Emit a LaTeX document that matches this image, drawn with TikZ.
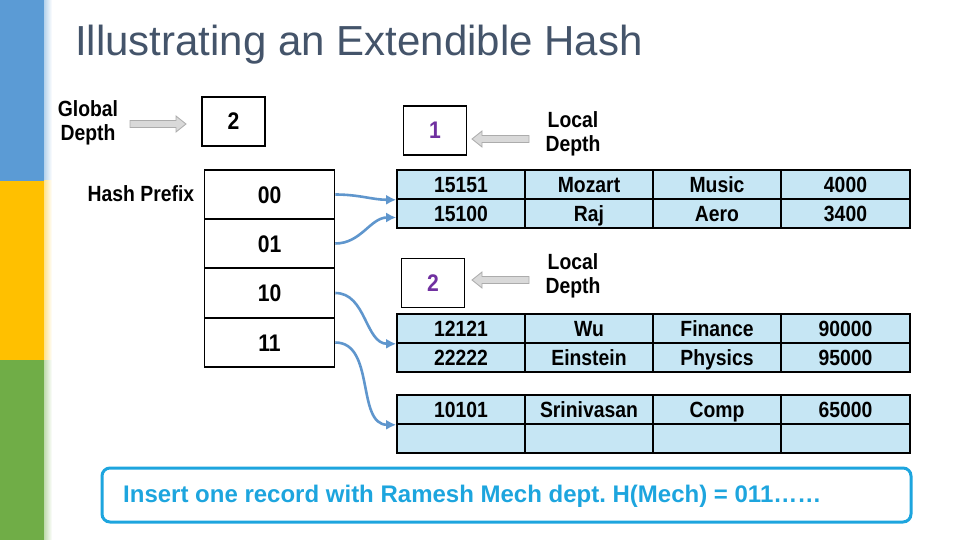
\documentclass[tikz,border=0pt]{standalone}
\usepackage{fontspec}
\setmainfont{Liberation Sans}
\newfontfamily\narrowfont[FakeStretch=0.88]{Liberation Sans}
\usepackage{tikz}
\usetikzlibrary{arrows.meta,calc}
\usepackage{xcolor}
\frenchspacing
\definecolor{slidetitle}{RGB}{68,84,106}
\definecolor{barblue}{RGB}{91,155,213}
\definecolor{baryellow}{RGB}{255,192,0}
\definecolor{bargreen}{RGB}{112,173,71}
\definecolor{bucketfill}{RGB}{198,230,244}
\definecolor{depthpurple}{RGB}{112,48,160}
\definecolor{insertcyan}{RGB}{29,165,222}
\definecolor{pointerblue}{RGB}{95,150,205}
\tikzstyle{lbl}=[font=\narrowfont\fontsize{22}{24}\selectfont\bfseries, align=center, inner sep=0]
\tikzstyle{dircell}=[draw, line width=1.6pt, minimum width=130, minimum height=49, inner sep=0, text height=17, text depth=0, font=\narrowfont\fontsize{24}{28}\selectfont\bfseries]
\tikzstyle{depthbox}=[draw, line width=1.6pt, minimum width=63, minimum height=49, inner sep=0, text height=17, text depth=0, font=\narrowfont\fontsize{24}{28}\selectfont\bfseries]
\tikzstyle{cell}=[draw, line width=1.6pt, fill=bucketfill, minimum width=128, minimum height=29, inner sep=0, text height=15.7, text depth=0, font=\narrowfont\fontsize{22}{24}\selectfont\bfseries]
\tikzstyle{pointer}=[pointerblue, line width=2.6pt, -{Latex[length=10pt,width=10pt]}]
% grey block arrow: tail x, tip x, y, signed head length
\newcommand{\blockArrow}[4]{
	\draw[gray!65, fill=gray!30, line width=.8pt] ({#1},{#3-3.5}) -- ({#2-(#4)},{#3-3.5}) -- ({#2-(#4)},{#3-8}) -- ({#2},{#3}) -- ({#2-(#4)},{#3+8}) -- ({#2-(#4)},{#3+3.5}) -- ({#1},{#3+3.5}) -- cycle;
}
% one record of a bucket: name, y, four fields
\newcommand{\bucketRow}[6]{
	\node[cell] (#1a) at (461,#2) {#3};
	\node[cell] (#1b) at (589,#2) {#4};
	\node[cell] (#1c) at (717,#2) {#5};
	\node[cell, minimum width=129] (#1d) at (845.5,#2) {#6};
}

\begin{document}
\begin{tikzpicture}[x=1pt, y=-1pt]
	\useasboundingbox (0,0) rectangle (960,540);
	\fill[barblue] (0,0) rectangle (44,181);
	\fill[baryellow] (0,181) rectangle (44,360);
	\fill[bargreen] (0,360) rectangle (44,540);
	\shade[left color=barblue!45, right color=white] (44,0) rectangle (52,181);
	\shade[left color=baryellow!45, right color=white] (44,181) rectangle (52,360);
	\shade[left color=bargreen!45, right color=white] (44,360) rectangle (52,540);
	\node[anchor=base west, inner sep=0, text=slidetitle, font=\fontsize{42}{50}\selectfont] (title) at (75,56) {Illustrating an Extendible Hash};

	% directory
	\node[lbl] (gdlabel) at (88,123) {Global\\Depth};
	\blockArrow{130}{186}{124}{10}
	\node[depthbox] (gdepth) at (233.5,121.5) {2};
	\node[lbl, anchor=base] (prefix) at (141,201) {Hash Prefix};
	\node[dircell] (d00) at (269.5,194.5) {00};
	\node[dircell] (d01) at (269.5,243.5) {01};
	\node[dircell] (d10) at (269.5,293) {10};
	\node[dircell] (d11) at (269.5,342.5) {11};

	% buckets
	\node[depthbox, text=depthpurple] (ld1) at (435,130.5) {1};
	\blockArrow{529}{472}{139}{-10}
	\node[lbl] (ld1label) at (573,134) {Local\\Depth};
	\bucketRow{b1r1}{184.5}{15151}{Mozart}{Music}{4000}
	\bucketRow{b1r2}{213.5}{15100}{Raj}{Aero}{3400}

	\node[depthbox, text=depthpurple] (ld2) at (433,283) {2};
	\blockArrow{529}{472}{280}{-10}
	\node[lbl] (ld2label) at (573,275.5) {Local\\Depth};
	\bucketRow{b2r1}{328.5}{12121}{Wu}{Finance}{90000}
	\bucketRow{b2r2}{357.5}{22222}{Einstein}{Physics}{95000}
	\bucketRow{b3r1}{409.5}{10101}{Srinivasan}{Comp}{65000}
	\bucketRow{b3r2}{438.5}{}{}{}{}

	\draw[pointer] (d00.east) to[out=0,in=180] (b1r1a.south west);
	\draw[pointer] (d01.east) to[out=0,in=180] ([yshift=-4pt]b1r2a.west);
	\draw[pointer] (d10.east) to[out=0,in=180] (b2r1a.south west);
	\draw[pointer] (d11.east) to[out=0,in=180] (b3r1a.south west);

	\draw[insertcyan, line width=3pt, rounded corners=8pt] (102,468) rectangle (911,522);
	\node[anchor=base west, inner sep=0, text=insertcyan, font=\fontsize{24}{28}\selectfont\bfseries] (insert) at (123,502) {Insert one record with Ramesh Mech dept. H(Mech) = 011……};
\end{tikzpicture}
\end{document}
